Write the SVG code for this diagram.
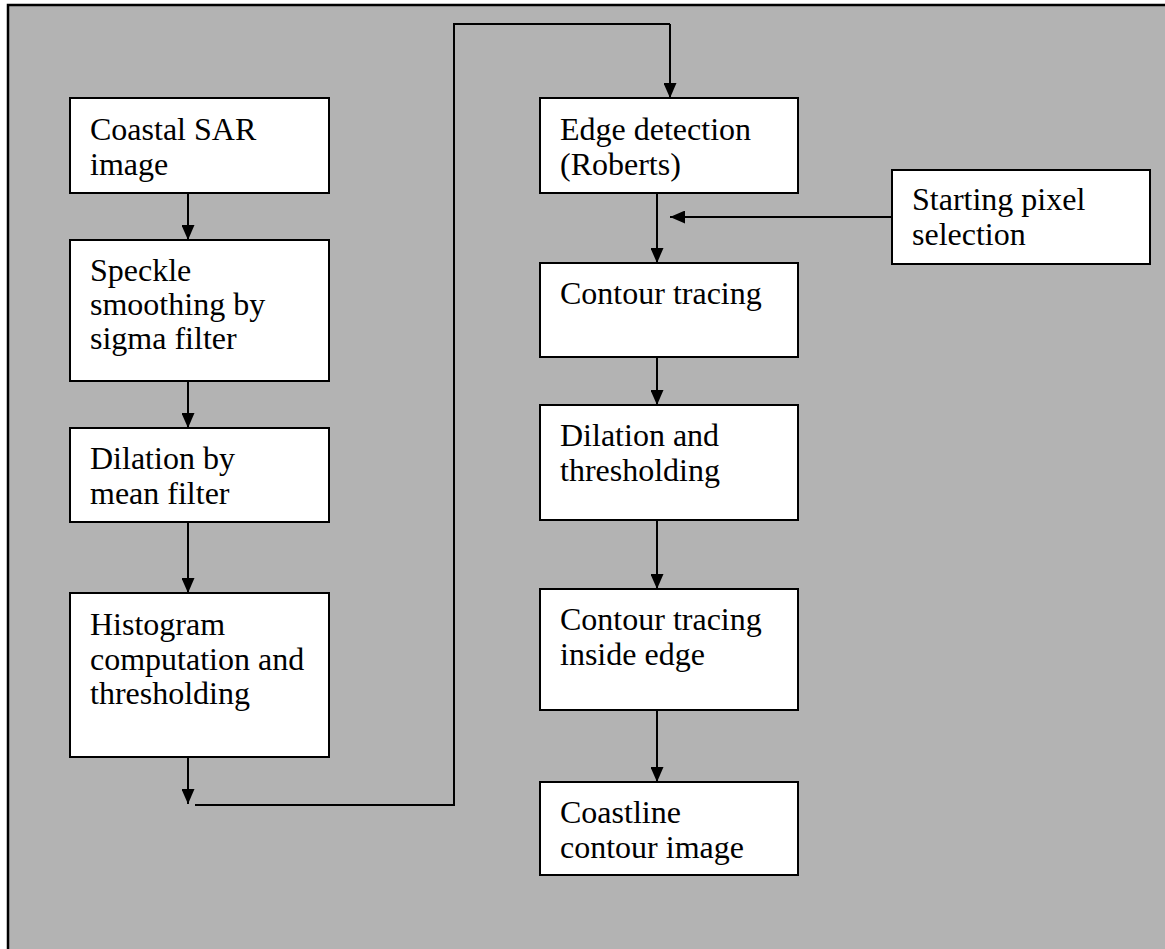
<svg xmlns="http://www.w3.org/2000/svg" width="1165" height="949" viewBox="0 0 1165 949">
  <style>
    .box { fill: #ffffff; stroke: #000000; stroke-width: 2; }
    .lbl { font-family: "Liberation Serif", "Times New Roman", serif; font-size: 32px; fill: #000000; }
    .wire { fill: none; stroke: #000000; stroke-width: 2; }
  </style>
  <defs>
    <marker id="head" viewBox="0 0 15 13" refX="15" refY="6.5" markerWidth="15" markerHeight="13" markerUnits="userSpaceOnUse" orient="auto">
      <path d="M0,0 L15,6.5 L0,13 Z" fill="#000000"/>
    </marker>
  </defs>

  <!-- page background and frame -->
  <rect x="0" y="0" width="1165" height="949" fill="#ffffff"/>
  <rect x="8" y="5" width="1200" height="1000" fill="#b3b3b3" stroke="#000000" stroke-width="2.5"/>

  <!-- connectors -->
  <g id="connectors">
    <line class="wire" x1="188" y1="193" x2="188" y2="240" marker-end="url(#head)"/>
    <line class="wire" x1="188" y1="381" x2="188" y2="428" marker-end="url(#head)"/>
    <line class="wire" x1="188" y1="522" x2="188" y2="593" marker-end="url(#head)"/>
    <line class="wire" x1="188" y1="757" x2="188" y2="804" marker-end="url(#head)"/>
    <polyline class="wire" points="195,805 454,805 454,24 670,24"/>
    <line class="wire" x1="670" y1="24" x2="670" y2="98" marker-end="url(#head)"/>
    <line class="wire" x1="657" y1="193" x2="657" y2="263" marker-end="url(#head)"/>
    <line class="wire" x1="892" y1="217" x2="670" y2="217" marker-end="url(#head)"/>
    <line class="wire" x1="657" y1="357" x2="657" y2="405" marker-end="url(#head)"/>
    <line class="wire" x1="657" y1="520" x2="657" y2="589" marker-end="url(#head)"/>
    <line class="wire" x1="657" y1="710" x2="657" y2="782" marker-end="url(#head)"/>
  </g>

  <!-- left column -->
  <g id="coastal-sar-image">
    <rect class="box" x="70" y="98" width="259" height="95"/>
    <text class="lbl" x="90" y="140">Coastal SAR</text>
    <text class="lbl" x="90" y="175">image</text>
  </g>
  <g id="speckle-smoothing">
    <rect class="box" x="70" y="240" width="259" height="141"/>
    <text class="lbl" x="90" y="281">Speckle</text>
    <text class="lbl" x="90" y="315">smoothing by</text>
    <text class="lbl" x="90" y="349">sigma filter</text>
  </g>
  <g id="dilation-mean">
    <rect class="box" x="70" y="428" width="259" height="94"/>
    <text class="lbl" x="90" y="469">Dilation by</text>
    <text class="lbl" x="90" y="504">mean filter</text>
  </g>
  <g id="histogram-thresholding">
    <rect class="box" x="70" y="593" width="259" height="164"/>
    <text class="lbl" x="90" y="635">Histogram</text>
    <text class="lbl" x="90" y="670">computation and</text>
    <text class="lbl" x="90" y="704">thresholding</text>
  </g>

  <!-- right column -->
  <g id="edge-detection">
    <rect class="box" x="540" y="98" width="258" height="95"/>
    <text class="lbl" x="560" y="140">Edge detection</text>
    <text class="lbl" x="560" y="175">(Roberts)</text>
  </g>
  <g id="starting-pixel">
    <rect class="box" x="892" y="170" width="258" height="94"/>
    <text class="lbl" x="912" y="210">Starting pixel</text>
    <text class="lbl" x="912" y="245">selection</text>
  </g>
  <g id="contour-tracing">
    <rect class="box" x="540" y="263" width="258" height="94"/>
    <text class="lbl" x="560" y="304">Contour tracing</text>
  </g>
  <g id="dilation-thresholding">
    <rect class="box" x="540" y="405" width="258" height="115"/>
    <text class="lbl" x="560" y="446">Dilation and</text>
    <text class="lbl" x="560" y="481">thresholding</text>
  </g>
  <g id="contour-inside-edge">
    <rect class="box" x="540" y="589" width="258" height="121"/>
    <text class="lbl" x="560" y="630">Contour tracing</text>
    <text class="lbl" x="560" y="665">inside edge</text>
  </g>
  <g id="coastline-contour">
    <rect class="box" x="540" y="782" width="258" height="93"/>
    <text class="lbl" x="560" y="823">Coastline</text>
    <text class="lbl" x="560" y="858">contour image</text>
  </g>
</svg>
